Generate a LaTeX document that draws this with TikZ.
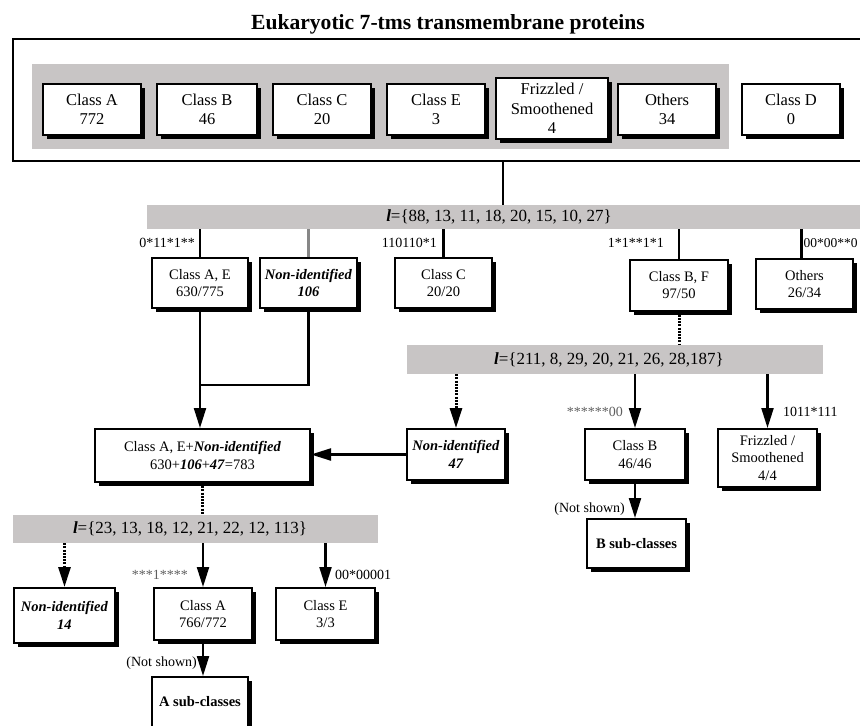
\documentclass[tikz,border=0pt]{standalone}
\usepackage{fontspec}
\setmainfont{Liberation Serif}
\usetikzlibrary{shadows,arrows.meta,calc}
\definecolor{bandgray}{RGB}{200,197,197}
\definecolor{labgray}{RGB}{95,95,95}
\definecolor{lnkgray}{RGB}{135,135,135}
\tikzset{
  pbox/.style={draw, line width=2pt, fill=white, align=center, inner sep=0pt,
    drop shadow={shadow xshift=4pt, shadow yshift=-4pt, fill=black, opacity=1},
    font=\fontsize{14.5}{17.5}\selectfont},
  topbox/.style={pbox, minimum width=98pt, minimum height=51pt, font=\fontsize{16.5}{19.5}\selectfont},
  band/.style={fill=bandgray, inner sep=0pt},
  bandtxt/.style={font=\fontsize{17}{20}\selectfont, inner sep=0pt},
  lab/.style={font=\fontsize{14}{16}\selectfont, inner sep=0pt},
  conn/.style={line width=2.2pt},
  arr/.style={line width=2.2pt, -{Triangle[length=20pt,width=12pt]}},
  dotl/.style={line width=3pt, dash pattern=on 2pt off 1.2pt},
  darr/.style={dotl, -{Triangle[length=20pt,width=12pt]}}
}
\newcommand{\bi}[1]{\textbf{\textit{#1}}}
\begin{document}
\begin{tikzpicture}[x=1pt,y=-1pt]
\clip (0,0) rectangle (860,726);
% title
\node[font=\fontsize{21.6}{24}\selectfont\bfseries, anchor=base, inner sep=0pt] (title) at (448,29) {Eukaryotic 7-tms transmembrane proteins};
% outer box and band 1
\node[draw, line width=2.5pt, minimum width=867pt, minimum height=122pt, inner sep=0pt] (outer) at (446.5,100) {};
\node[band, minimum width=697pt, minimum height=85pt] (band1) at (380.5,106.5) {};
\node[topbox] (tA) at (92,109.5) {Class A\\772};
\node[topbox, minimum width=100pt] (tB) at (207,109.5) {Class B\\46};
\node[topbox] (tC) at (322,109.5) {Class C\\20};
\node[topbox] (tE) at (436,109.5) {Class E\\3};
\node[topbox, minimum width=112pt, minimum height=61pt] (tF) at (552,108.5) {Frizzled /\\Smoothened\\4};
\node[topbox] (tO) at (667,109.5) {Others\\34};
\node[topbox] (tD) at (791,109.5) {Class D\\0};
% band 2
\node[band, minimum width=733pt, minimum height=24pt] (band2) at (513.5,217) {};
\node[bandtxt] (band2t) at (499,217) {\bi{l}=\{88, 13, 11, 18, 20, 15, 10, 27\}};
\coordinate (c2) at (503,0);
\draw[conn] (outer.south -| c2) -- (band2.north -| c2);
% row 2
\node[pbox, minimum width=96pt, minimum height=50pt] (ae) at (200,283) {Class A, E\\630/775};
\node[pbox, minimum width=97pt, minimum height=50pt] (ni106) at (308.5,283) {\bi{Non-identified}\\\bi{106}};
\node[pbox, minimum width=97pt, minimum height=50pt] (cc) at (443.5,283) {Class C\\20/20};
\node[pbox, minimum width=98pt, minimum height=51pt] (bf) at (679,285) {Class B, F\\97/50};
\node[pbox, minimum width=97pt, minimum height=50pt] (oth) at (804.5,284) {Others\\26/34};
\coordinate (othtop) at ($(oth.north)+(-3,0)$);
\draw[conn] (ae.north |- band2.south) -- (ae.north);
\draw[conn, lnkgray] (ni106.north |- band2.south) -- (ni106.north);
\draw[conn] (cc.north |- band2.south) -- (cc.north);
\draw[conn] (bf.north |- band2.south) -- (bf.north);
\draw[conn] (othtop |- band2.south) -- (othtop);
\node[lab, anchor=east] at (195,243) {0*11*1**};
\node[lab, anchor=east] at (437,243) {110110*1};
\node[lab, anchor=east] at (664,243) {1*1**1*1};
\node[lab, anchor=west, font=\fontsize{13.5}{16}\selectfont] at (803.5,243) {00*00**0};
% band 3
\node[band, minimum width=416pt, minimum height=29pt] (band3) at (615,359.5) {};
\node[bandtxt] (band3t) at (609,359.5) {\bi{l}=\{211, 8, 29, 20, 21, 26, 28,187\}};
\draw[dotl] (bf.south) -- (bf.south |- band3.north);
% row 3
\node[pbox, minimum width=98pt, minimum height=51pt] (ni47) at (456,454.5) {\bi{Non-identified}\\\bi{47}};
\node[pbox, minimum width=100pt, minimum height=51pt] (clb) at (635,454.5) {Class B\\46/46};
\node[pbox, minimum width=99pt, minimum height=58pt] (frz) at (767.5,458) {Frizzled /\\Smoothened\\4/4};
\node[pbox, minimum width=215pt, minimum height=53pt] (comb) at (202.5,455.5) {Class A, E+\bi{Non-identified}\\630+\bi{106}+\bi{47}=783};
\draw[darr] (ni47.north |- band3.south) -- (ni47.north);
\draw[arr] (clb.north |- band3.south) -- (clb.north);
\draw[arr] (frz.north |- band3.south) -- (frz.north);
\node[lab, anchor=east, text=labgray] at (623,412) {******00};
\node[lab, anchor=west] at (783,412) {1011*111};
\coordinate (j) at (200,385);
\draw[conn] (ni106.south) |- (j);
\draw[arr] (ae.south) -- (ae.south |- comb.north);
\draw[arr] (ni47.west) -- (ni47.west -| comb.east);
% B sub-classes
\node[pbox, minimum width=99pt, minimum height=49pt] (bsub) at (636.5,543.5) {\textbf{B sub-classes}};
\draw[arr] (clb.south) -- (clb.south |- bsub.north);
\node[lab, anchor=east] at (625,509) {(Not shown)};
% band 4
\node[band, minimum width=365pt, minimum height=28pt] (band4) at (195.5,529) {};
\node[bandtxt] (band4t) at (190,529) {\bi{l}=\{23, 13, 18, 12, 21, 22, 12, 113\}};
\draw[dotl] (comb.south) -- (comb.south |- band4.north);
% row 4
\node[pbox, minimum width=101pt, minimum height=55pt] (ni14) at (64.5,615.5) {\bi{Non-identified}\\\bi{14}};
\node[pbox, minimum width=98pt, minimum height=52pt] (cla) at (203,614) {Class A\\766/772};
\node[pbox, minimum width=99pt, minimum height=52pt] (cle) at (325.5,614) {Class E\\3/3};
\draw[darr] (ni14.north |- band4.south) -- (ni14.north);
\draw[arr] (cla.north |- band4.south) -- (cla.north);
\draw[arr] (cle.north |- band4.south) -- (cle.north);
\node[lab, anchor=east, text=labgray] at (188,575) {***1****};
\node[lab, anchor=west] at (335,575) {00*00001};
% A sub-classes
\node[pbox, minimum width=96pt, minimum height=50pt] (asub) at (200,702) {\textbf{A sub-classes}};
\draw[arr] (cla.south) -- (cla.south |- asub.north);
\node[lab, anchor=east] at (197,663) {(Not shown)};
\end{tikzpicture}
\end{document}
